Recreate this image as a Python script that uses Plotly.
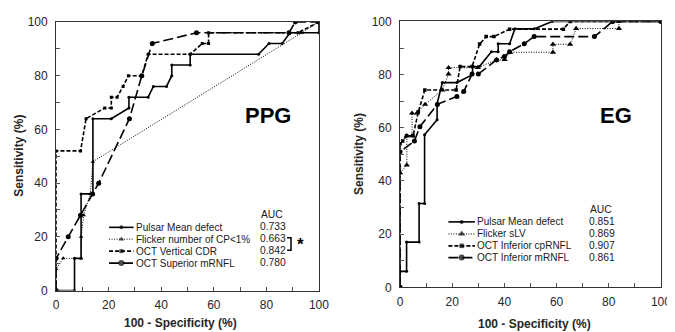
import plotly.graph_objects as go

# ---------------- data ----------------
# PPG panel
ppg_pulsar_x = [0, 7, 7, 9.5, 9.5, 14, 14, 21, 27.7, 27.7, 35, 37, 42, 44, 44, 51, 51, 77, 81, 86, 89, 100, 100]
ppg_pulsar_y = [0, 0, 12, 12, 36, 36, 64, 64, 68, 72, 72, 76, 76, 80, 84, 84, 88, 88, 92, 92, 96, 96, 100]

ppg_flicker_x = [0, 0, 2.7, 9.5, 9.5, 10.5, 13, 14, 93.5, 100]
ppg_flicker_y = [0, 8, 12, 12, 20, 28, 36, 48, 96, 100]

ppg_cdr_x = [0, 0, 9.3, 11.4, 18.5, 21, 21, 23.2, 25.5, 27.5, 32.6, 35, 51, 55.6, 58, 58, 92, 100]
ppg_cdr_y = [0, 52, 52, 64, 68, 68, 72, 72, 76, 80, 80, 88, 88, 92, 92, 96, 96, 100]

ppg_mrnfl_x = [0, 0, 4.6, 9.3, 13.9, 16.2, 27.9, 32.6, 36.6, 53.4, 88.6, 91, 100]
ppg_mrnfl_y = [0, 12, 20, 28, 36, 40, 64, 80, 92, 96, 96, 100, 100]

# EG panel
eg_pulsar_x = [0, 0, 2.5, 2.5, 7.3, 7.3, 9.4, 9.4, 14.2, 14.2, 16.2, 21.8, 27.8, 27.8, 30.4, 35, 37.6, 37.6, 42, 44, 51.4, 58.3, 100]
eg_pulsar_y = [0, 6, 6, 17, 17, 31.5, 31.5, 57.4, 63, 69, 77, 77, 80, 83, 83, 88.6, 88.6, 91.6, 91.6, 97.2, 97.2, 100, 100]

eg_flicker_x = [0, 0, 2.6, 2.6, 4.6, 4.6, 6.5, 9.6, 16.2, 18.6, 18.6, 29.8, 37, 40.1, 42.2, 58.6, 58.6, 65.2, 67.5, 83.9, 83.9, 100]
eg_flicker_y = [0, 43, 46, 57, 57, 65.5, 65.5, 68.8, 74.2, 80.2, 82.6, 82.6, 85.6, 85.6, 88.4, 88.4, 91.4, 91.4, 97.3, 97.3, 100, 100]

eg_cprnfl_x = [0, 0, 1, 2.5, 5, 7, 9.5, 21.5, 23, 27.6, 30.5, 33, 36, 42, 62.6, 65.2, 100]
eg_cprnfl_y = [0, 54, 55, 57, 57, 66, 74.2, 74.2, 83, 83, 91.5, 94.3, 94.3, 97.1, 97.1, 100, 100]

eg_mrnfl_x = [0, 0, 5.5, 7.6, 14.3, 21.8, 24.4, 27.6, 30, 37, 40, 42, 47.6, 51.4, 74.5, 81.5, 100]
eg_mrnfl_y = [0, 51, 55, 60.4, 68.8, 71.8, 73.6, 80.2, 80.2, 85.5, 86.8, 88.6, 91.6, 94.3, 94.3, 100, 100]

ppg_names = ["Pulsar Mean defect", "Flicker number of CP<1%", "OCT Vertical CDR", "OCT Superior mRNFL"]
ppg_auc = ["0.733", "0.663", "0.842", "0.780"]
eg_names = ["Pulsar Mean defect", "Flicker sLV", "OCT Inferior cpRNFL", "OCT Inferior mRNFL"]
eg_auc = ["0.851", "0.869", "0.907", "0.861"]

tick_vals = list(range(0, 101, 10))
tick_text = [str(v) if v % 20 == 0 else "" for v in tick_vals]

# ---------------- styles ----------------
W, H = 675, 332
FONT = "Liberation Sans, Arial, sans-serif"

ppg_styles = [
    dict(dash="solid", width=1.6, symbol="circle", size=3),
    dict(dash="1px,1.5px", width=1.0, symbol="triangle-up", size=4),
    dict(dash="4px,2px", width=1.6, symbol="square", size=3),
    dict(dash="10px,4px", width=1.6, symbol="circle", size=5),
]
eg_styles = [
    dict(dash="solid", width=1.6, symbol="circle", size=3),
    dict(dash="1px,1.5px", width=1.0, symbol="triangle-up", size=5.5),
    dict(dash="4px,2px", width=1.6, symbol="square", size=3.5),
    dict(dash="10px,4px", width=1.6, symbol="circle", size=5),
]

fig = go.Figure()

def add_series(xs, ys, st, xa, ya):
    fig.add_trace(go.Scatter(
        x=xs, y=ys, mode="lines+markers", xaxis=xa, yaxis=ya, showlegend=False,
        line=dict(color="black", width=st["width"], dash=st["dash"]),
        marker=dict(color="black", symbol=st["symbol"], size=st["size"], line=dict(width=0)),
        hoverinfo="skip"))

for (xs, ys), st in zip([(ppg_pulsar_x, ppg_pulsar_y), (ppg_flicker_x, ppg_flicker_y),
                         (ppg_cdr_x, ppg_cdr_y), (ppg_mrnfl_x, ppg_mrnfl_y)], ppg_styles):
    add_series(xs, ys, st, "x", "y")
for (xs, ys), st in zip([(eg_pulsar_x, eg_pulsar_y), (eg_flicker_x, eg_flicker_y),
                         (eg_cprnfl_x, eg_cprnfl_y), (eg_mrnfl_x, eg_mrnfl_y)], eg_styles):
    add_series(xs, ys, st, "x2", "y2")

# ---------------- legend samples (pixel overlay axis) ----------------
def legend_block(x0, x1, rows_y, styles):
    for yy, st in zip(rows_y, styles):
        xm = (x0 + x1) / 2
        fig.add_trace(go.Scatter(
            x=[x0, xm, x1], y=[yy, yy, yy], mode="lines+markers", xaxis="x3", yaxis="y3",
            showlegend=False, hoverinfo="skip",
            line=dict(color="black", width=st["width"], dash=st["dash"]),
            marker=dict(color="black", symbol=st["symbol"], size=[0, st["size"] + 1, 0], line=dict(width=0))))

ppg_rows = [221.7, 234.0, 246.5, 259.0]
eg_rows = [216.0, 228.6, 241.0, 253.3]
legend_block(100, 125, ppg_rows, ppg_styles)
legend_block(446, 473, eg_rows, eg_styles)

# significance bracket
fig.add_trace(go.Scatter(x=[281.5, 285.5, 285.5, 281.5], y=[232.5, 232.5, 245.5, 245.5],
                         mode="lines", xaxis="x3", yaxis="y3", showlegend=False, hoverinfo="skip",
                         line=dict(color="black", width=1.5)))

ann = []
def P(px, py):
    return px / W, 1 - py / H

def text(px, py, s, size=10, bold=False, xanchor="left", color="#1a1a1a", angle=0):
    x, y = P(px, py)
    ann.append(dict(x=x, y=y, xref="paper", yref="paper", text=("<b>%s</b>" % s) if bold else s,
                    showarrow=False, xanchor=xanchor, yanchor="middle", textangle=angle,
                    font=dict(family=FONT, size=size, color=color)))

for yy, nm in zip(ppg_rows, ppg_names):
    text(125.5, yy, nm, size=10)
for yy, nm in zip(eg_rows, eg_names):
    text(473.5, yy, nm, size=10)
text(266.5, 208.5, "AUC", xanchor="center", size=10.3)
for yy, v in zip(ppg_rows, ppg_auc):
    text(267, yy - 1, v, xanchor="center", size=10.3)
text(602, 203.5, "AUC", xanchor="center", size=10.3)
for yy, v in zip(eg_rows, eg_auc):
    text(603, yy, v, xanchor="center", size=10.3)
text(295.5, 240, "*", size=17, bold=True, xanchor="center", color="black")

text(262, 105, "PPG", size=22, bold=True, xanchor="center", color="black")
text(616.5, 105, "EG", size=22, bold=True, xanchor="center", color="black")

text(172.5, 322, "100 - Specificity (%)", size=12, bold=True, xanchor="center", color="#262626")
text(534, 323, "100 - Specificity (%)", size=12, bold=True, xanchor="center", color="#262626")
text(8, 147, "Sensitivity (%)", size=12, bold=True, xanchor="center", color="#262626", angle=-90)
text(355, 145, "Sensitivity (%)", size=12, bold=True, xanchor="center", color="#262626", angle=-90)

axis_common = dict(range=[0, 100], tickvals=tick_vals, ticktext=tick_text, ticks="inside",
                   ticklen=4, tickwidth=1, tickcolor="#555555", showline=True, mirror=True,
                   linecolor="#333333", linewidth=1, showgrid=False, zeroline=False,
                   tickfont=dict(family=FONT, size=12, color="#262626"), fixedrange=True)

def xd(a, b):
    return [a / W, b / W]

def yd(top, bottom):
    return [1 - bottom / H, 1 - top / H]

fig.update_layout(
    width=W, height=H, autosize=False,
    margin=dict(l=0, r=0, t=0, b=0),
    paper_bgcolor="white", plot_bgcolor="rgba(0,0,0,0)",
    xaxis=dict(domain=xd(46, 314), anchor="y", ticklabelstandoff=3, **axis_common),
    yaxis=dict(domain=yd(7.3, 287.7), anchor="x", ticklabelstandoff=5, **axis_common),
    xaxis2=dict(domain=xd(396.7, 662.7), anchor="y2", ticklabelstandoff=3, **axis_common),
    yaxis2=dict(domain=yd(6.7, 284.3), anchor="x2", ticklabelstandoff=5, **axis_common),
    xaxis3=dict(domain=[0, 1], range=[0, W], anchor="y3", visible=False, fixedrange=True),
    yaxis3=dict(domain=[0, 1], range=[H, 0], anchor="x3", visible=False, fixedrange=True),
    annotations=ann,
    showlegend=False,
)

fig.write_html("out.html", config={"displayModeBar": False})
